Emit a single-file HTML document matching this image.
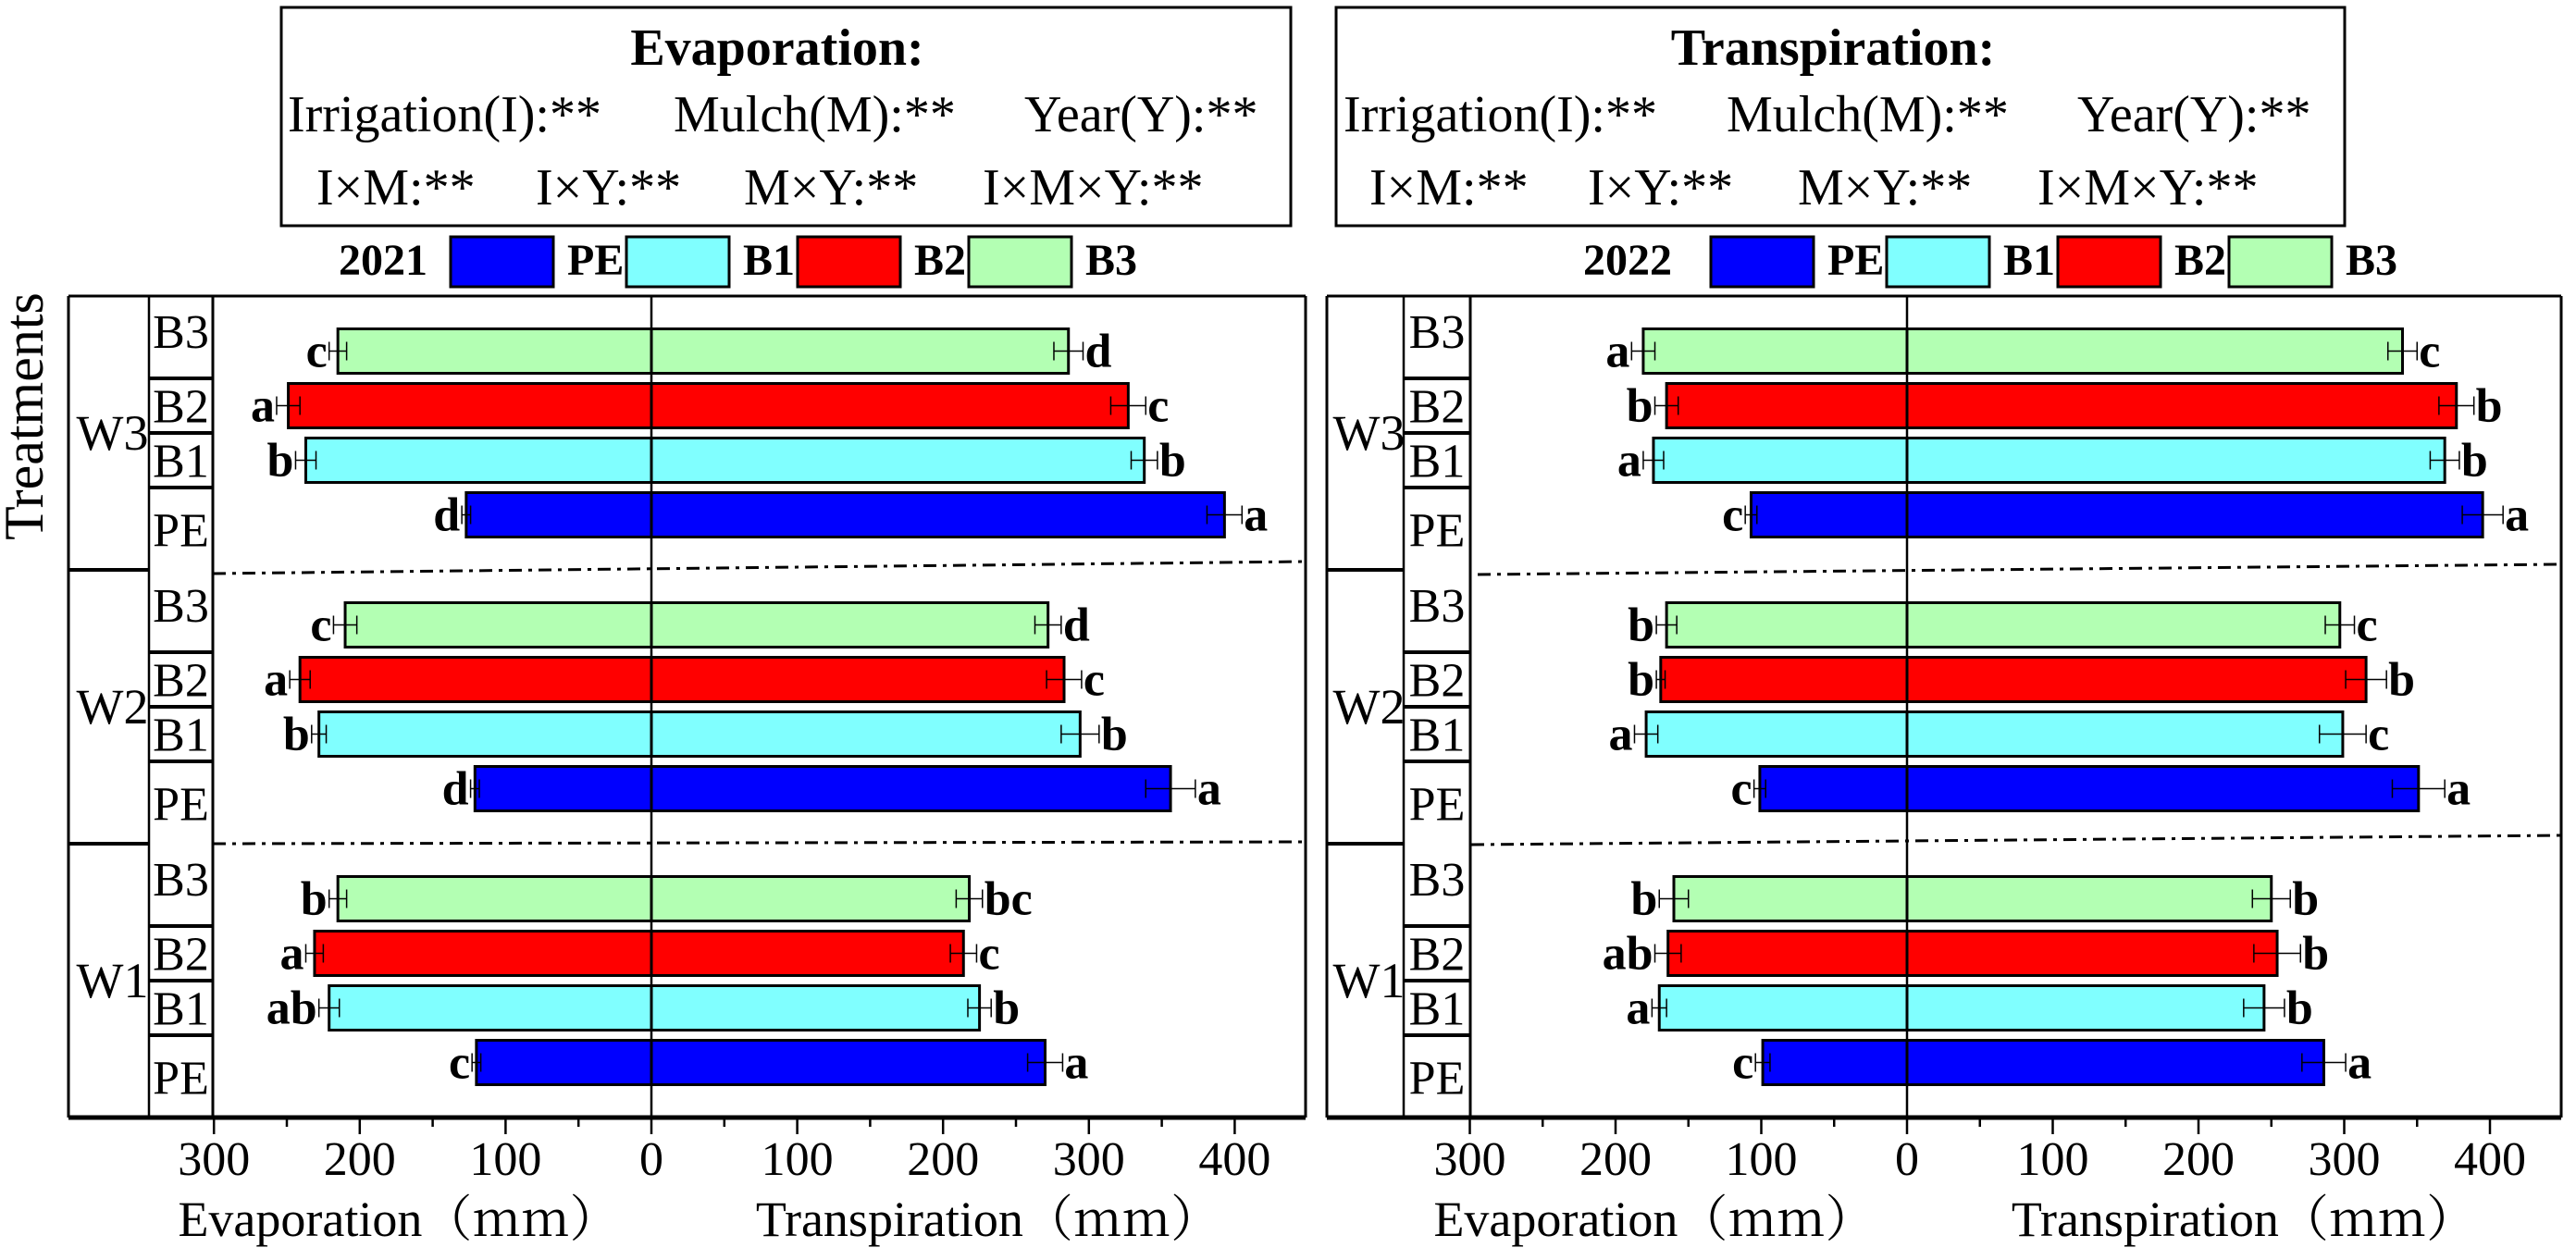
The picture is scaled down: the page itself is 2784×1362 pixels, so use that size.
<!DOCTYPE html>
<html><head><meta charset="utf-8"><style>
html,body{margin:0;padding:0;background:#fff;}
svg{display:block;}
text{font-family:"Liberation Serif",serif;fill:#000;}
</style></head><body>
<svg id="chart" width="2784" height="1362" viewBox="0 0 2784 1362" xmlns="http://www.w3.org/2000/svg">
<g>
<rect x="304" y="8" width="1091" height="236" fill="none" stroke="#000" stroke-width="3"/>
<text x="840" y="70" font-size="56" font-weight="bold" text-anchor="middle">Evaporation:</text>
<text x="311" y="142" font-size="56">Irrigation(I):**</text>
<text x="728" y="142" font-size="56">Mulch(M):**</text>
<text x="1107" y="142" font-size="56">Year(Y):**</text>
<text x="342" y="221" font-size="56">I×M:**</text>
<text x="579" y="221" font-size="56">I×Y:**</text>
<text x="804" y="221" font-size="56">M×Y:**</text>
<text x="1062" y="221" font-size="56">I×M×Y:**</text>
</g>
<g>
<rect x="1444" y="8" width="1090" height="236" fill="none" stroke="#000" stroke-width="3"/>
<text x="1981" y="70" font-size="56" font-weight="bold" text-anchor="middle">Transpiration:</text>
<text x="1452" y="142" font-size="56">Irrigation(I):**</text>
<text x="1866" y="142" font-size="56">Mulch(M):**</text>
<text x="2245" y="142" font-size="56">Year(Y):**</text>
<text x="1480" y="221" font-size="56">I×M:**</text>
<text x="1716" y="221" font-size="56">I×Y:**</text>
<text x="1943" y="221" font-size="56">M×Y:**</text>
<text x="2202" y="221" font-size="56">I×M×Y:**</text>
</g>
<text transform="translate(46,450) rotate(-90)" font-size="60" text-anchor="middle">Treatments</text>
<g id="panels"></g>
</svg>
<script>
// ---- data (mm) ; order within group: B3, B2, B1, PE ; groups: W3, W2, W1
const groups = ["W3","W2","W1"];
const treatments = ["B3","B2","B1","PE"];
const years = ["2021","2022"];
const evap2021 = [[215,249,237,127],[210,241,228,121],[215,231,221,120]];
const trans2021 = [[286,327,338,393],[272,283,294,356],[218,214,225,270]];
const evap2022 = [[181,165,174,107],[165,169,179,101],[160,164,170,99]];
const trans2022 = [[340,377,369,395],[297,315,299,351],[250,254,245,286]];
const evapErr2021 = [[6,8,7,3],[8,7,5,3],[6,6,7,3]];
const transErr2021 = [[10,12,9,12],[9,12,13,17],[9,9,8,12]];
const evapErr2022 = [[8,8,7,4],[7,3,8,4],[10,9,5,5]];
const transErr2022 = [[10,12,10,14],[10,14,16,18],[13,16,14,15]];
const evapLetters2021 = [["c","a","b","d"],["c","a","b","d"],["b","a","ab","c"]];
const transLetters2021 = [["d","c","b","a"],["d","c","b","a"],["bc","c","b","a"]];
const evapLetters2022 = [["a","b","a","c"],["b","b","a","c"],["b","ab","a","c"]];
const transLetters2022 = [["c","b","b","a"],["c","b","c","a"],["b","b","b","a"]];
const evapTicks = [300,200,100];
const transTicks = [0,100,200,300,400];

const colors = {B3:"#B3FFB3",B2:"#FF0000",B1:"#80FFFF",PE:"#0000FF"};
const NS="http://www.w3.org/2000/svg";
const root=document.getElementById('panels');
function mk(tag,attrs,parent){const e=document.createElementNS(NS,tag);for(const k in attrs)e.setAttribute(k,attrs[k]);(parent||root).appendChild(e);return e;}

const panels=[
 {year:"2021",frameL:74,wR:161,axisL:230,zero:704,k:1.576,frameR:1411,legX:366,sw:[487,677,862,1047],
  ev:evap2021,tr:trans2021,evE:evapErr2021,trE:transErr2021,evL:evapLetters2021,trL:transLetters2021,
  dash:[[230,620,1411,607],[230,912,1411,910]]},
 {year:"2022",frameL:1434,wR:1517,axisL:1589,zero:2061,k:1.575,frameR:2768,legX:1711,sw:[1849,2039,2224,2409],
  ev:evap2022,tr:trans2022,evE:evapErr2022,trE:transErr2022,evL:evapLetters2022,trL:transLetters2022,
  dash:[[1597,621,2768,610],[1590,913,2768,903]]}
];
const top0=320, gh=296, bottom=1208, barH=48, barStep=59;

function axisTitle(g,x,word,name){
 const t=mk('text',{x:x,y:1336,'font-size':54,'text-anchor':'middle'},g);
 
 
 const s1=mk('tspan',{style:'font-family:"Liberation Serif",serif'},t);s1.textContent=word;
 const s2=mk('tspan',{style:'font-family:"Noto Serif CJK SC","Noto Sans CJK SC",serif'},t);s2.textContent='（mm）';
}

panels.forEach((p,pi)=>{
 const g=mk('g',{});
 
 
 const xE=v=>p.zero-v*p.k, xT=v=>p.zero+v*p.k;
 const lt=mk('text',{x:p.legX,y:297,'font-size':48,'font-weight':'bold'},g);lt.textContent=p.year;
 
 
 ["PE","B1","B2","B3"].forEach((t,i)=>{
  const r=mk('rect',{x:p.sw[i],y:256,width:111,height:54,fill:colors[t],stroke:'#000','stroke-width':3},g);
  
  
  const tx=mk('text',{x:p.sw[i]+126,y:297,'font-size':48,'font-weight':'bold'},g);tx.textContent=t;
  
  
 });
 mk('line',{x1:p.frameL,y1:top0,x2:p.frameR,y2:top0,stroke:'#000','stroke-width':3},g);
 mk('line',{x1:p.frameR,y1:top0,x2:p.frameR,y2:bottom,stroke:'#000','stroke-width':3},g);
 mk('line',{x1:p.frameL,y1:top0,x2:p.frameL,y2:bottom,stroke:'#000','stroke-width':3},g);
 mk('line',{x1:p.wR,y1:top0,x2:p.wR,y2:bottom,stroke:'#000','stroke-width':2.5},g);
 mk('line',{x1:p.axisL,y1:top0,x2:p.axisL,y2:bottom,stroke:'#000','stroke-width':3},g);
 const zl=mk('line',{x1:p.zero,y1:top0,x2:p.zero,y2:bottom,stroke:'#000','stroke-width':2.5},g);
 
 
 p.dash.forEach(d=>{const l=mk('line',{x1:d[0],y1:d[1],x2:d[2],y2:d[3],stroke:'#000','stroke-width':3,'stroke-dasharray':'14 7 4 7'},g);
  
  });
 groups.forEach((gn,gi)=>{
  const gt=top0+gi*gh;
  if(gi>0) mk('line',{x1:p.frameL,y1:gt,x2:p.wR,y2:gt,stroke:'#000','stroke-width':4},g);
  const wl=mk('text',{x:(p.frameL+p.wR)/2+4,y:gt+gh/2+18,'font-size':54,'text-anchor':'middle'},g);wl.textContent=gn;
  
  
  treatments.forEach((t,ti)=>{
   const cy=gt+gh/2+(ti-1.5)*barStep;
   if(ti>0) mk('line',{x1:p.wR,y1:cy-barStep/2,x2:p.axisL,y2:cy-barStep/2,stroke:'#000','stroke-width':4},g);
   const ly = ti===0? gt+46 : (ti===3? cy+24 : cy+8);
   const bl=mk('text',{x:(p.wR+p.axisL)/2,y:ly+10,'font-size':52,'text-anchor':'middle'},g);bl.textContent=t;
   
   
   const ev=p.ev[gi][ti], tr=p.tr[gi][ti];
   const be=mk('rect',{x:xE(ev),y:cy-barH/2,width:p.zero-xE(ev),height:barH,fill:colors[t],stroke:'#000','stroke-width':3},g);
   
   
   const bt=mk('rect',{x:p.zero,y:cy-barH/2,width:xT(tr)-p.zero,height:barH,fill:colors[t],stroke:'#000','stroke-width':3},g);
   
   
   const ee=p.evE[gi][ti], te=p.trE[gi][ti];
   [[xE(ev+ee),xE(ev-ee)],[xT(tr-te),xT(tr+te)]].forEach(a=>{
    mk('line',{x1:a[0],y1:cy,x2:a[1],y2:cy,stroke:'#000','stroke-width':1.5},g);
    mk('line',{x1:a[0],y1:cy-10,x2:a[0],y2:cy+10,stroke:'#000','stroke-width':1.5},g);
    mk('line',{x1:a[1],y1:cy-10,x2:a[1],y2:cy+10,stroke:'#000','stroke-width':1.5},g);
   });
   const le=mk('text',{x:xE(ev+ee)-2,y:cy+17,'font-size':52,'font-weight':'bold','text-anchor':'end'},g);le.textContent=p.evL[gi][ti];
   
   
   const lr=mk('text',{x:xT(tr+te)+2,y:cy+17,'font-size':52,'font-weight':'bold'},g);lr.textContent=p.trL[gi][ti];
   
   
  });
 });
 const ax=mk('line',{x1:p.frameL,y1:bottom,x2:p.frameR,y2:bottom,stroke:'#000','stroke-width':5},g);
 
 
 for(let v=-300; v<=450; v+=50){
  const x=p.zero+v*p.k; if(x>p.frameR+1) continue;
  const major=v%100===0;
  mk('line',{x1:x,y1:bottom,x2:x,y2:bottom+(major?18:10),stroke:'#000','stroke-width':2.5},g);
 }
 evapTicks.forEach(v=>{const t=mk('text',{x:xE(v),y:1270,'font-size':52,'text-anchor':'middle'},g);t.textContent=v;
  
  });
 transTicks.forEach(v=>{const t=mk('text',{x:xT(v),y:1270,'font-size':52,'text-anchor':'middle'},g);t.textContent=v;
  
  });
 axisTitle(g,p.zero-273,'Evaporation','evaporation-axis-title');
 axisTitle(g,p.zero+364,'Transpiration','transpiration-axis-title');
});
</script>
</body></html>
